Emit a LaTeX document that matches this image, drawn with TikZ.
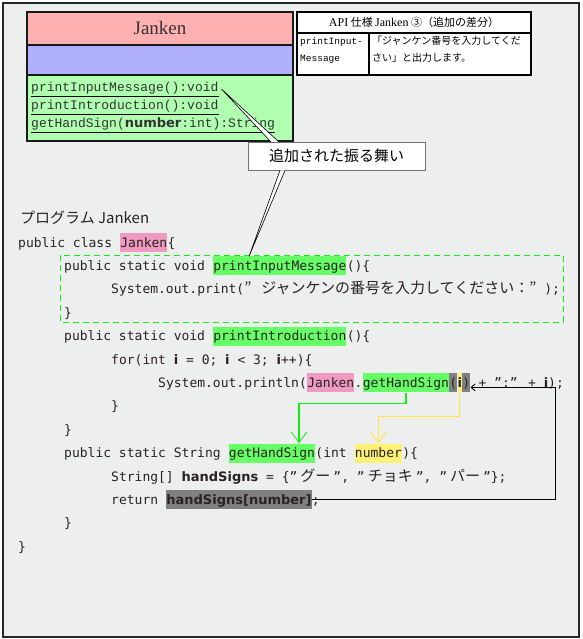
\documentclass[tikz,border=0pt]{standalone}
\usepackage{fontspec}
\setmainfont{Liberation Serif}
\newfontfamily\codefont{DejaVu Sans Mono}
\newfontfamily\boldsans{DejaVu Sans}
\newfontfamily\umlfont{Liberation Mono}
\newfontfamily\jpfont{Noto Sans CJK JP}
\usetikzlibrary{positioning,calc,arrows.meta}

\definecolor{bgcol}{HTML}{EDEFEE}
\definecolor{clspink}{HTML}{FFB0B0}
\definecolor{clsblue}{HTML}{B0B0FF}
\definecolor{clsgreen}{HTML}{B0FFB0}
\definecolor{hlgreen}{HTML}{66FF66}
\definecolor{hlpink}{HTML}{EF9AC0}
\definecolor{hlyellow}{HTML}{FFF078}
\definecolor{hlgray}{HTML}{808080}
\definecolor{codetext}{HTML}{2A2222}
\definecolor{linegreen}{HTML}{11EE11}
\definecolor{lineyellow}{HTML}{FFE63C}

\newcommand{\jp}[1]{{\jpfont\fontsize{15}{15}\selectfont #1}}
\newcommand{\bd}[1]{{\boldsans\bfseries #1}}
\newcommand{\gap}{\ \null}
\newcommand{\kana}[1]{”\hspace{3pt}\jp{#1}\hspace{3pt}”}

\tikzset{
  code/.style={font=\codefont\fontsize{13}{15}\selectfont,text=codetext,
    inner xsep=0pt,inner ysep=0pt,text height=14pt,text depth=5pt,anchor=base west},
  hlgreen/.style={code,fill=hlgreen},
  hlpink/.style={code,fill=hlpink},
  hlyellow/.style={code,fill=hlyellow},
  hlgray/.style={code,fill=hlgray},
  clsbox/.style={draw=black!90,line width=2.5pt,outer sep=0pt,minimum width=266pt,inner sep=0pt},
  op/.style={font=\umlfont\fontsize{13}{15}\selectfont,text=black!80,anchor=base west,
    inner sep=0pt,text height=10pt,text depth=4.5pt},
  apicell/.style={draw=black,line width=1.2pt,fill=white,outer sep=0pt,inner sep=0pt,anchor=north west},
  note/.style={draw=black!55,fill=white,anchor=north west,minimum width=177pt,
    minimum height=28pt,inner sep=0pt,font=\jpfont\fontsize{15}{15}\selectfont},
  pointer/.style={arrows={-Straight Barb[length=11pt,width=16pt,line width=0.8pt]},line width=1.3pt},
  dashbox/.style={draw=linegreen,line width=1pt,dash pattern=on 6pt off 4pt}
}

\begin{document}
\begin{tikzpicture}[x=1pt,y=-1pt]
\useasboundingbox (0,0) rectangle (582,639);
\draw[line width=1.5pt,draw=black!85,fill=bgcol] (3,3) rectangle (579,637);

% class box
\node[clsbox,fill=clspink,minimum height=33pt,anchor=north west,
  font=\fontsize{19}{19}\selectfont,text=black!80] (cls) at (27,12) {Janken};
\node[clsbox,fill=clsblue,minimum height=30pt,below=0pt of cls] (attr) {};
\node[clsbox,fill=clsgreen,minimum height=66pt,below=0pt of attr] (ops) {};
\node[op] (op1) at (31,92) {printInputMessage():void};
\node[op] (op2) at (31,110) {printIntroduction():void};
\node[op] (op3) at (31,128) {getHandSign(\bd{number}:int):String};
\foreach \o in {op1,op2,op3}
  \draw[line width=0.8pt] (\o.south west) -- (\o.south east);

% API table
\node[apicell,minimum width=234pt,minimum height=21pt,
  font=\jpfont\fontsize{11}{11}\selectfont] (apihead) at (297,12)
  {{\rmfamily\fontsize{12}{12}\selectfont API} 仕様 {\rmfamily\fontsize{12}{12}\selectfont Janken} ③（追加の差分）};
\node[apicell,minimum width=72pt,minimum height=42pt] (apikey) at (apihead.south west) {};
\node[apicell,minimum width=162pt,minimum height=42pt] (apival) at (apikey.north east) {};
\node[anchor=north west,inner sep=0pt,align=left,
  font=\umlfont\fontsize{9.5}{17}\selectfont] (keytxt) at ($(apikey.north west)+(3,4)$)
  {printInput-\\Message};
\node[anchor=north west,inner sep=0pt,align=left,
  font=\jpfont\fontsize{10}{17}\selectfont] (valtxt) at ($(apival.north west)+(3,3)$)
  {「ジャンケン番号を入力してくだ\\さい」と出力します。};

% program
\node[code] (prog) at (20,223) {\jp{プログラム Janken}};
\node[code] (l2a) at (18,247) {public class\gap};
\node[hlpink,base right=0pt of l2a] (jk1) {Janken};
\node[code,base right=0pt of jk1] (l2c) {\{};

\node[code] (l3a) at (64,270.4) {public static void\gap};
\node[hlgreen,base right=0pt of l3a] (pim) {printInputMessage};
\node[code,base right=0pt of pim] (l3c) {()\{};
\node[code] (l4) at (111,293.8)
  {System.out.print(\jp{”\hspace{10pt}ジャンケンの番号を入力してください：”}\hspace{8pt});};
\node[code] (l5) at (64,317.2) {\}};

\node[code] (l6a) at (64,340.6) {public static void\gap};
\node[hlgreen,base right=0pt of l6a] (pit) {printIntroduction};
\node[code,base right=0pt of pit] (l6c) {()\{};
\node[code] (l7) at (111,364) {for(int \bd{i} = 0; \bd{i} < 3; \bd{i}++)\{};
\node[code] (l8a) at (158,387.4) {System.out.println(};
\node[hlpink,base right=0pt of l8a] (jk2) {Janken};
\node[code,base right=0pt of jk2] (l8b) {.};
\node[hlgreen,base right=0pt of l8b] (ghs1) {getHandSign};
\node[hlgray,base right=0pt of ghs1] (lp) {(};
\node[hlyellow,base right=0pt of lp] (yi) {\bd{i}};
\node[hlgray,base right=0pt of yi] (rp) {)};
\node[code,base right=0pt of rp] (l8e) {\ + ”:” + \bd{i});};
\node[code] (l9) at (111,410.8) {\}};
\node[code] (l10) at (64,434.2) {\}};

\node[code] (l11a) at (64,457.6) {public static String\gap};
\node[hlgreen,base right=0pt of l11a] (ghs2) {getHandSign};
\node[code,base right=0pt of ghs2] (l11b) {(int\gap};
\node[hlyellow,base right=0pt of l11b] (num) {number};
\node[code,base right=0pt of num] (l11c) {)\{};
\node[code] (l12) at (111,481) {String[] \bd{handSigns} = \{\kana{グー}, \kana{チョキ}, \kana{パー}\};};
\node[code] (l13a) at (111,504.4) {return\gap};
\node[hlgray,base right=0pt of l13a] (hsn) {\bd{handSigns[number]}};
\node[code,base right=0pt of hsn] (l13c) {;};
\node[code] (l14) at (64,527.8) {\}};
\node[code] (l15) at (18,551.2) {\}};

\draw[dashbox] (60,255) rectangle (563,322);

% connectors
\draw[pointer,color=linegreen] (ghs1.south) -- ++(0,11.1) -| ($(ghs2.north)+(27,0)$);
\draw[pointer,color=lineyellow] (yi.south) -- ++(0,24.1) -| (num.north);
\draw[line width=0.9pt,arrows={-Straight Barb[length=4pt,width=7pt]}]
  (hsn.east) -- ++(244,0) |- (rp.base east);

% callout
\node[note] (note) at (248,142) {追加された振る舞い};
\coordinate (tipA) at ($(op1.east)+(3,0)$);
\coordinate (tipB) at ($(pim.north west)+(36,0)$);
\fill[white] (tipA) -- ($(note.north west)+(23,0)$) -- ($(note.north west)+(31,0)$) -- cycle;
\draw[line width=0.6pt] ($(note.north west)+(23,0)$) -- (tipA) -- ($(note.north west)+(31,0)$);
\fill[white] (tipB) -- ($(note.south west)+(32,0)$) -- ($(note.south west)+(37,0)$) -- cycle;
\draw[line width=0.6pt] ($(note.south west)+(32,0)$) -- (tipB) -- ($(note.south west)+(37,0)$);
\end{tikzpicture}
\end{document}
